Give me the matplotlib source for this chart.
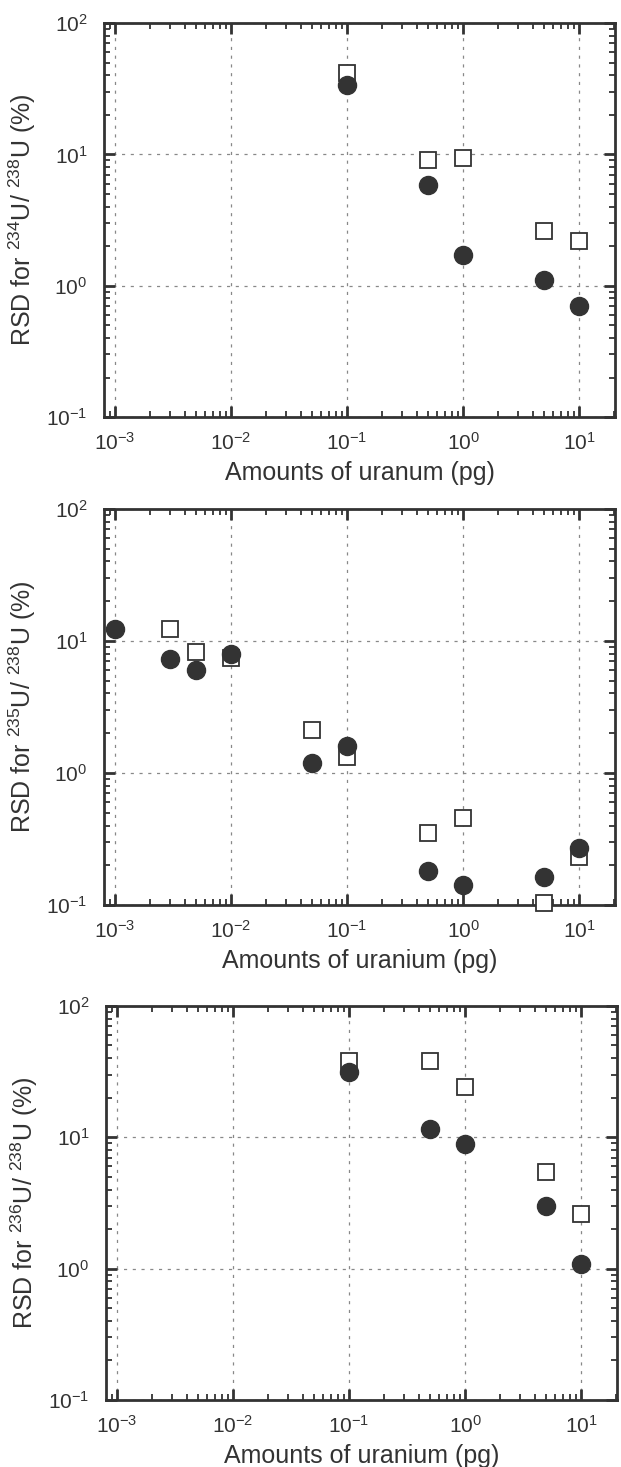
import numpy as np
import matplotlib
matplotlib.use("Agg")
import matplotlib.pyplot as plt
from matplotlib.ticker import LogLocator, NullFormatter

# amounts of uranium (pg)
x_234 = [0.1, 0.5, 1.0, 5.0, 10.0]
sq_234 = [42.0, 9.0, 9.4, 2.62, 2.20]
ci_234 = [34.0, 5.85, 1.71, 1.10, 0.705]

x_235 = [0.001, 0.003, 0.005, 0.01, 0.05, 0.1, 0.5, 1.0, 5.0, 10.0]
sq_235 = [None, 12.3, 8.2, 7.43, 2.10, 1.31, 0.354, 0.455, 0.103, 0.232]
ci_235 = [12.4, 7.34, 6.06, 7.92, 1.20, 1.61, 0.181, 0.142, 0.163, 0.272]

x_236 = [0.1, 0.5, 1.0, 5.0, 10.0]
sq_236 = [38.0, 37.8, 24.3, 5.48, 2.62]
ci_236 = [31.2, 11.6, 8.9, 2.99, 1.09]

ylabels = [r"RSD for $^{234}$U/ $^{238}$U (%)",
           r"RSD for $^{235}$U/ $^{238}$U (%)",
           r"RSD for $^{236}$U/ $^{238}$U (%)"]
xlabels = ["Amounts of uranum (pg)",
           "Amounts of uranium (pg)",
           "Amounts of uranium (pg)"]

DARK = "#333333"

plt.rcParams["font.family"] = ["Liberation Sans", "DejaVu Sans"]
plt.rcParams["mathtext.fontset"] = "custom"
plt.rcParams["mathtext.rm"] = "Liberation Sans"
plt.rcParams["mathtext.it"] = "Liberation Sans"
plt.rcParams["mathtext.bf"] = "Liberation Sans"
plt.rcParams["mathtext.default"] = "regular"
plt.rcParams["axes.unicode_minus"] = False
plt.rcParams["text.color"] = DARK
plt.rcParams["axes.labelcolor"] = DARK
plt.rcParams["xtick.color"] = DARK
plt.rcParams["ytick.color"] = DARK


def draw_panel(ax, xs, squares, circles, ylabel, xlabel):
    sx = [x for x, s in zip(xs, squares) if s is not None]
    sy = [s for s in squares if s is not None]
    ax.plot(sx, sy, linestyle="none", marker="s", markersize=11.5,
            markerfacecolor="white", markeredgecolor=DARK,
            markeredgewidth=1.3, zorder=3, clip_on=False)
    ax.plot(xs, circles, linestyle="none", marker="o", markersize=13,
            markerfacecolor=DARK, markeredgecolor=DARK, zorder=4,
            clip_on=False)

    ax.set_xscale("log")
    ax.set_yscale("log")
    ax.set_xlim(8.05e-4, 20.4)
    ax.set_ylim(0.1, 100)

    ax.xaxis.set_major_locator(LogLocator(base=10, numticks=10))
    ax.xaxis.set_minor_locator(LogLocator(base=10, subs=np.arange(2, 10), numticks=20))
    ax.yaxis.set_major_locator(LogLocator(base=10, numticks=10))
    ax.yaxis.set_minor_locator(LogLocator(base=10, subs=np.arange(2, 10), numticks=20))
    ax.xaxis.set_minor_formatter(NullFormatter())
    ax.yaxis.set_minor_formatter(NullFormatter())

    ax.tick_params(which="both", direction="in", top=True, right=True,
                   labelsize=15)
    ax.tick_params(which="major", length=8, width=2)
    ax.tick_params(which="minor", length=4.5, width=1.3)
    ax.tick_params(axis="x", which="major", pad=11)
    ax.tick_params(axis="y", which="major", pad=12)

    for sp in ax.spines.values():
        sp.set_linewidth(2)
        sp.set_color(DARK)

    ax.grid(True, which="major", color="#888888", linestyle=(0, (2.5, 4.5)),
            linewidth=0.9)
    ax.set_axisbelow(True)

    ax.set_ylabel(ylabel, fontsize=18, labelpad=6)
    ax.set_xlabel(xlabel, fontsize=18, labelpad=5)


fig = plt.figure(figsize=(6.21, 14.67), dpi=100)
positions = [[104 / 621, 0.7157, 511 / 621, 0.2686],
             [104 / 621, 0.3831, 511 / 621, 0.2700],
             [106 / 621, 0.0457, 511 / 621, 0.2686]]
data = [(x_234, sq_234, ci_234), (x_235, sq_235, ci_235), (x_236, sq_236, ci_236)]

for pos, (xs, sq, ci), yl, xl in zip(positions, data, ylabels, xlabels):
    ax = fig.add_axes(pos)
    draw_panel(ax, xs, sq, ci, yl, xl)

fig.savefig("out.png", dpi=100)
